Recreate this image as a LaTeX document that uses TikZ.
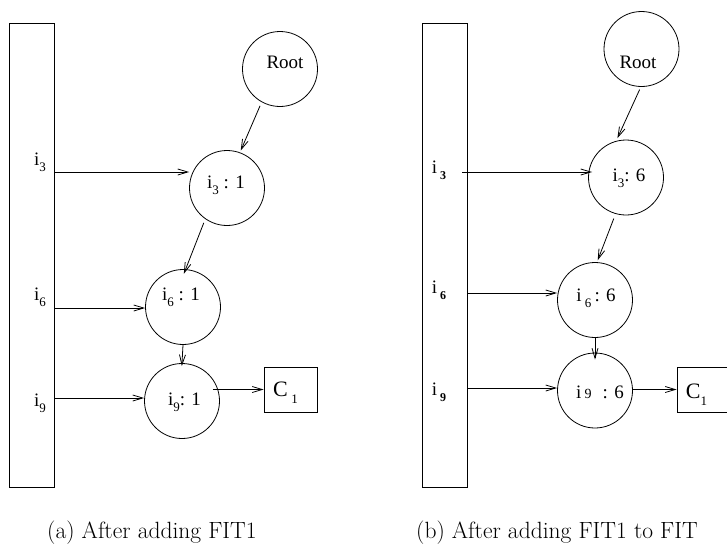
\documentclass[tikz,border=0pt]{standalone}
\usepackage{fontspec}
\newfontfamily\tm{Liberation Serif}
\usetikzlibrary{arrows.meta}
\newcommand\sbs[1]{\raisebox{-0.32em}{\fontsize{13}{13}\selectfont #1}}
\newcommand\sbb[1]{\raisebox{-0.32em}{\fontsize{12}{12}\selectfont\bfseries #1}}
\begin{document}
\begin{tikzpicture}[x=1pt,y=-1pt,
  ln/.style={line width=0.8pt},
  arr/.style={draw, ln, -{Straight Barb[length=10pt,width=6pt]}},
  circ/.style={circle, draw, ln, minimum size=75pt, inner sep=0pt},
  bar/.style={draw, ln, minimum width=45pt, minimum height=464pt, inner sep=0pt},
  cbox/.style={draw, ln, minimum width=53pt, minimum height=45pt, inner sep=0pt},
  txt/.style={anchor=base, inner sep=0pt, font=\tm\fontsize{19}{21}\selectfont},
  captxt/.style={anchor=base west, inner sep=0pt, font=\fontsize{23.5}{26}\selectfont}]
\useasboundingbox (0,0) rectangle (727,544);
% ---------- left panel ----------
\node[bar] (barA) at (31.5,255) {};
\node[circ] (rootA) at (280,69) {};
\node[circ] (c3A) at (227,188) {};
\node[circ] (c6A) at (183,307) {};
\node[circ] (c9A) at (182,401) {};
\node[cbox] (c1A) at (290.5,389.5) {};
\node[txt] (rootAt) at (285,68.5) {Root};
\node[txt] (c3At) at (226,188) {i\sbs{3} : 1};
\node[txt] (c6At) at (181,300) {i\sbs{6} : 1};
\node[txt] (c9At) at (184.5,405) {i\sbs{9}: 1};
\node[txt] (c1At) at (285.5,396.7) {\fontsize{22}{24}\selectfont C\,\sbs{1}};
\node[txt] (l3A) at (40,165) {i\sbs{3}};
\node[txt] (l6A) at (40,300) {i\sbs{6}};
\node[txt] (l9A) at (40,406) {i\sbs{9}};
\coordinate (s3A) at (54,172);
\coordinate (s6A) at (54,308);
\coordinate (s9A) at (54,398);
\draw[arr] (s3A) -- (s3A -| c3A.west);
\draw[arr] (s6A) -- (s6A -| c6A.west);
\draw[arr] (s9A) -- (s9A -| c9A.west);
\draw[arr, shorten <=4pt, shorten >=2pt] (rootA.241) -- (c3A.70);
\draw[arr, shorten <=4pt, shorten >=-5pt] (c3A.235) -- (c6A.86);
\draw[arr, shorten >=-3pt] (c6A.south) -- (c9A.north);
\draw[arr, shorten <=-7pt] (c9A.east |- c1A.west) -- (c1A.west);
\node[captxt] (capA) at (47,538) {(a) After adding FIT1};
% ---------- right panel ----------
\node[bar] (barB) at (445,255) {};
\node[circ] (rootB) at (641.5,49) {};
\node[circ] (c3B) at (626,177.5) {};
\node[circ] (c6B) at (595,300) {};
\node[circ] (c9B) at (595,390.5) {};
\node[cbox] (c1B) at (703.5,389.5) {};
\node[txt] (rootBt) at (638,68.3) {Root};
\node[txt] (c3Bt) at (629,181.7) {i\sbs{3}: 6};
\node[txt] (c6Bt) at (596,301.7) {i\,\sbs{6}\,: 6};
\node[txt] (c9Bt) at (600,398.3) {i\,{\fontsize{14}{14}\selectfont 9}\,\, : 6};
\node[txt] (c1Bt) at (696.5,398.3) {\fontsize{22}{24}\selectfont C\sbs{1}};
\node[txt] (l3B) at (439,173.3) {i\,\sbb{3}};
\node[txt] (l6B) at (439,293.3) {i\,\sbb{6}};
\node[txt] (l9B) at (439,395) {i\,\sbb{9}};
\coordinate (s3B) at (462,172);
\coordinate (s6B) at (467.5,293);
\coordinate (s9B) at (467.5,388);
\draw[arr, shorten >=-4pt] (s3B) -- (s3B -| c3B.west);
\draw[arr] (s6B) -- (s6B -| c6B.west);
\draw[arr] (s9B) -- (s9B -| c9B.west);
\draw[arr, shorten <=3pt, shorten >=3pt] (rootB.269) -- (c3B.105);
\draw[arr, shorten <=5pt, shorten >=2pt] (c3B.254) -- (c6B.87);
\draw[arr, shorten >=-7pt] (c6B.south) -- (c9B.north);
\draw[arr] (c9B.east |- c1B.west) -- (c1B.west);
\node[captxt] (capB) at (416,538) {(b) After adding FIT1 to FIT};
\end{tikzpicture}
\end{document}
